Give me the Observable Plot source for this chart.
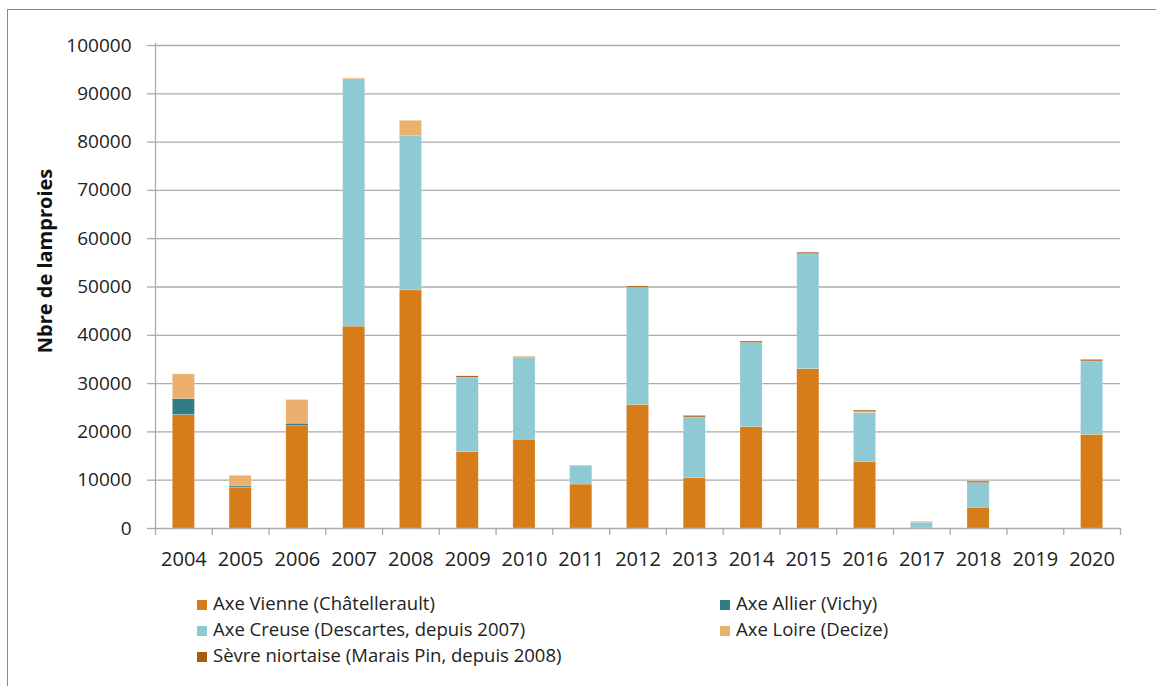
<!DOCTYPE html>
<html>
<head>
<meta charset="utf-8">
<script src="https://cdn.jsdelivr.net/npm/d3@7"></script>
<script src="https://cdn.jsdelivr.net/npm/@observablehq/plot@0.6"></script>
<style>
  html, body { margin: 0; padding: 0; background: #fff; }
  body { width: 1156px; height: 686px; position: relative; overflow: hidden; font-family: "Open Sans", sans-serif; }
  #frame { position: absolute; left: 7px; top: 9px; width: 1200px; height: 700px; border-top: 1.5px solid #8a8a8a; border-left: 1.5px solid #8a8a8a; pointer-events: none; }
  #chart { position: absolute; left: 0; top: 0; }
  .legend { position: absolute; font-size: 18.5px; color: #222; white-space: nowrap; }
  .legend .sw { display: inline-block; width: 10px; height: 10px; margin-right: 6px; vertical-align: 0px; }
  #ylabel { position: absolute; left: 44px; top: 261px; transform: translate(-50%, -50%) rotate(-90deg); font-weight: bold; font-size: 20px; color: #111; white-space: nowrap; }
</style>
</head>
<body>
<div id="chart"></div>
<div id="legend"></div>
<div id="ylabel"></div>
<div id="frame"></div>
<script>
const years = ["2004","2005","2006","2007","2008","2009","2010","2011","2012","2013","2014","2015","2016","2017","2018","2019","2020"];
const seriesNames = [
  "Axe Vienne (Châtellerault)",
  "Axe Allier (Vichy)",
  "Axe Creuse (Descartes, depuis 2007)",
  "Axe Loire (Decize)",
  "Sèvre niortaise (Marais Pin, depuis 2008)"
];
const seriesColors = ["#D67D1A", "#2F7E87", "#8ECAD3", "#ECB06E", "#A65C12"];
const vienne  = [23500, 8400, 21200, 41800, 49300, 15800, 18400, 9100, 25600, 10400, 21000, 33000, 13800, 0, 4300, 0, 19400];
const allier  = [3300, 300, 500, 0, 0, 0, 0, 0, 0, 0, 0, 0, 0, 0, 0, 0, 0];
const creuse  = [0, 0, 0, 51200, 31900, 15400, 17000, 3900, 24200, 12600, 17400, 23800, 10100, 1200, 5100, 0, 15200];
const loire   = [5100, 2200, 4900, 200, 3200, 0, 200, 0, 0, 0, 0, 0, 200, 200, 0, 0, 0];
const sevre   = [0, 0, 0, 0, 0, 300, 0, 0, 300, 300, 300, 300, 300, 0, 300, 0, 300];
const yTicks = [0, 10000, 20000, 30000, 40000, 50000, 60000, 70000, 80000, 90000, 100000];
const yLabel = "Nbre de lamproies";

const values = [vienne, allier, creuse, loire, sevre];
const data = [];
seriesNames.forEach((s, si) => years.forEach((y, yi) => data.push({year: y, series: s, value: values[si][yi]})));

const W = 1156, H = 575, ML = 155, MR = 36, MT = 45, MB = 47;
const step = (W - ML - MR) / years.length;
const grid = "#ababab";

const plot = Plot.plot({
  width: W, height: H,
  marginLeft: ML, marginRight: MR, marginTop: MT, marginBottom: MB,
  style: {fontFamily: "'Open Sans', sans-serif", fontSize: "19px", color: "#222", background: "transparent"},
  x: {domain: years, paddingInner: 0.61, paddingOuter: 0.305, round: false, label: null},
  y: {domain: [0, 100000], label: null},
  color: {domain: seriesNames, range: seriesColors},
  marks: [
    Plot.ruleY(yTicks, {y: d => d, stroke: grid, strokeWidth: 1.3}),
    Plot.barY(data, {x: "year", y: "value", fill: "series", order: seriesNames, stroke: "#ffffff", strokeOpacity: 0.35, strokeWidth: 0.6}),
    Plot.ruleX([years[0]], {x: d => d, dx: -step / 2, stroke: grid, strokeWidth: 1.3, insetTop: -2, insetBottom: -7}),
    Plot.axisX({ticks: years, tickSize: 7, tickFormat: () => "", dx: step / 2, stroke: grid, strokeWidth: 1.3, label: null}),
    Plot.axisX({ticks: years, tickSize: 0, tickPadding: 23, label: null, fontSize: 20}),
    Plot.axisY({ticks: yTicks, tickSize: 8, tickPadding: 16, tickFormat: d => String(d), label: null, stroke: grid, strokeWidth: 1.3, fontSize: 19})
  ]
});
document.getElementById("chart").appendChild(plot);
document.getElementById("ylabel").textContent = yLabel;

const legend = document.getElementById("legend");
const pos = [[197, 603], [720, 603], [197, 629], [720, 629], [197, 655]];
seriesNames.forEach((s, i) => {
  const d = document.createElement("div");
  d.className = "legend";
  d.style.left = pos[i][0] + "px";
  d.style.top = (pos[i][1] - 13) + "px";
  d.innerHTML = `<span class="sw" style="background:${seriesColors[i]}"></span>${s}`;
  legend.appendChild(d);
});
</script>
</body>
</html>
